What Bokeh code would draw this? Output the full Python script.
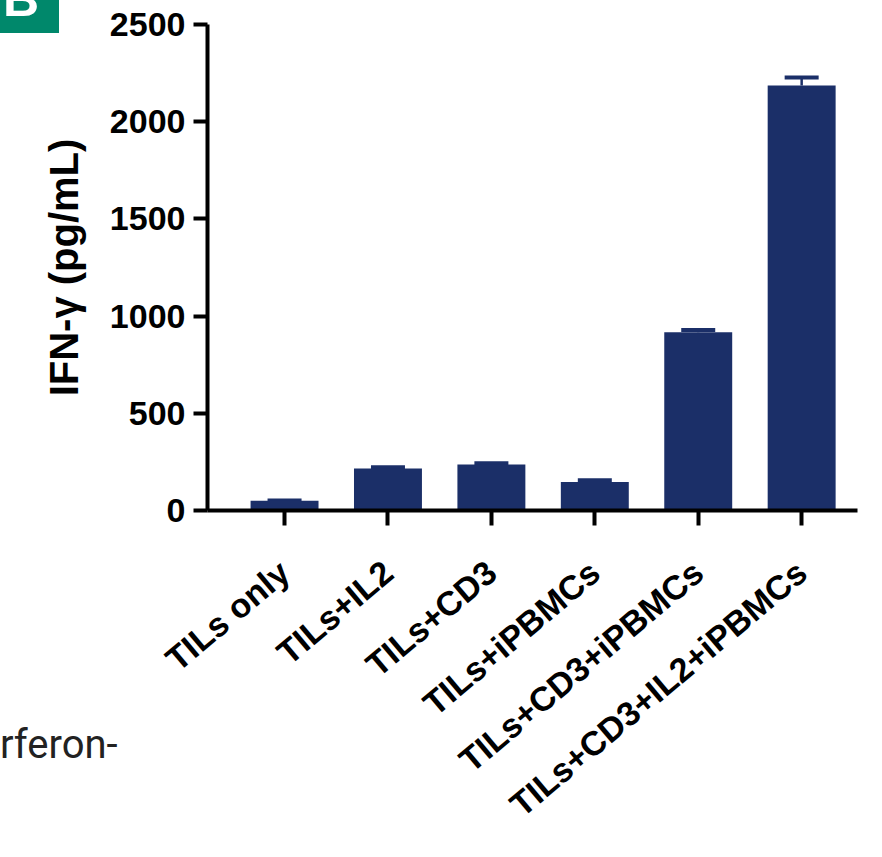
from bokeh.plotting import figure
from bokeh.models import Range1d, FixedTicker, Whisker, TeeHead, ColumnDataSource, Div
from bokeh.layouts import column
from bokeh.embed import file_html
from bokeh.resources import INLINE

categories = ["TILs only", "TILs+IL2", "TILs+CD3", "TILs+iPBMCs",
              "TILs+CD3+iPBMCs", "TILs+CD3+IL2+iPBMCs"]
ifn_mean = [50, 216, 236, 147, 917, 2186]
ifn_err = [1, 7, 7, 8, 12, 42]
y_ticks = [0, 500, 1000, 1500, 2000, 2500]

xs = list(range(len(categories)))
src = ColumnDataSource(dict(
    x=xs, top=ifn_mean,
    upper=[m + e for m, e in zip(ifn_mean, ifn_err)],
))

NAVY = "#1b2f68"
FONT = "Liberation Sans"

p = figure(width=866, height=841, output_backend="svg", toolbar_location=None,
           x_range=Range1d(-0.745, 5.54), y_range=Range1d(0, 2500),
           min_border_left=207, min_border_right=9, min_border_top=24,
           min_border_bottom=331)
p.outline_line_color = None
p.grid.visible = False
p.background_fill_color = "white"
p.border_fill_color = "white"

p.vbar(x="x", top="top", width=0.657, source=src, fill_color=NAVY,
       line_color=None)

w = Whisker(base="x", upper="upper", lower="top", source=src,
            line_color=NAVY, line_width=2.5,
            upper_head=TeeHead(size=34, line_color=NAVY, line_width=4),
            lower_head=None)
p.add_layout(w)

# y axis
ya = p.yaxis[0]
ya.ticker = FixedTicker(ticks=y_ticks)
ya.axis_line_width = 4
ya.major_tick_line_width = 4
ya.major_tick_out = 14
ya.major_tick_in = 0
ya.minor_tick_line_color = None
ya.major_label_text_font = FONT
ya.major_label_text_font_style = "bold"
ya.major_label_text_font_size = "34px"
ya.major_label_text_color = "black"
ya.major_label_standoff = 8
ya.axis_label = "IFN-γ (pg/mL)"
ya.axis_label_text_font = FONT
ya.axis_label_text_font_style = "bold"
ya.axis_label_text_font_size = "40px"
ya.axis_label_text_color = "black"
ya.axis_label_standoff = 21

# x axis
xa = p.xaxis[0]
xa.ticker = FixedTicker(ticks=xs)
xa.major_label_overrides = {i: c for i, c in zip(xs, categories)}
xa.axis_line_width = 4
xa.major_tick_line_width = 4
xa.major_tick_out = 15
xa.major_tick_in = 0
xa.minor_tick_line_color = None
xa.major_label_orientation = 0.70
xa.major_label_text_font = FONT
xa.major_label_text_font_style = "bold"
xa.major_label_text_font_size = "34px"
xa.major_label_text_color = "black"
xa.major_label_standoff = 42

# panel letter box and cropped caption fragment from the source figure,
# drawn as an absolutely positioned HTML overlay over the plot's top-left
overlay_html = (
    '<div style="position:absolute;left:0px;top:0px;width:59px;height:33px;'
    'background:#00886b;overflow:hidden;">'
    '<span style="position:absolute;left:3px;top:-26px;font-family:\'Liberation Sans\';'
    'font-weight:bold;font-size:50px;line-height:50px;color:#ffffff;">B</span></div>'
    '<span style="position:absolute;left:0px;top:725px;font-family:Roboto;'
    'font-size:40px;line-height:40px;color:#222222;white-space:nowrap;">rferon-</span>'
)
overlay = Div(text=overlay_html, width=866, height=841, margin=(0, 0, 0, 0),
              styles={"position": "absolute", "left": "0px", "top": "0px",
                      "pointer-events": "none", "overflow": "visible",
                      "z-index": "10"})

layout = column(p, overlay)

open("out.html", "w").write(file_html(layout, INLINE))
